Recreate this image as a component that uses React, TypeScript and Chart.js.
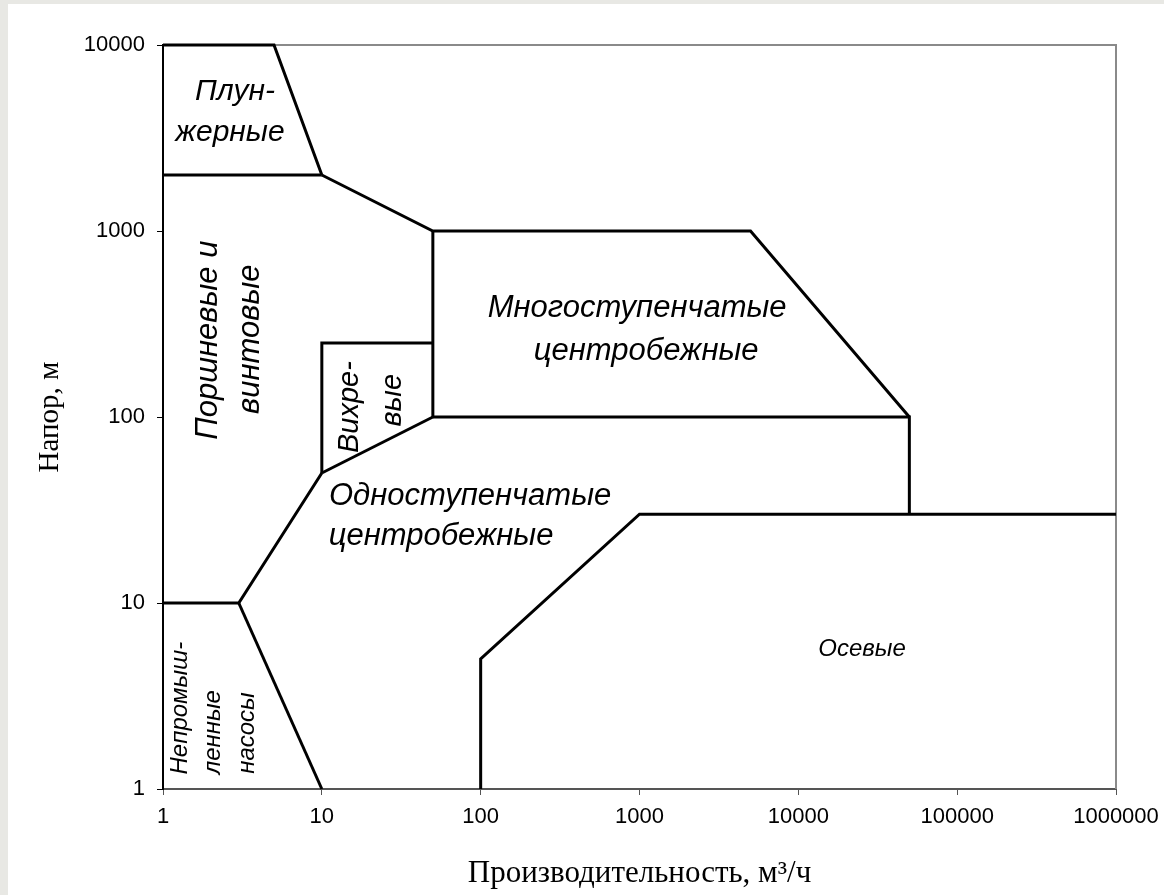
import React, { useEffect, useRef } from "react";
import { Chart, registerables } from "chart.js";

Chart.register(...registerables);

// Axis decades (tick labels)
const xDecades = [1, 10, 100, 1000, 10000, 100000, 1000000];
const yDecades = [1, 10, 100, 1000, 10000];

// Region boundary polylines (x = flow m3/h, y = head m)
const plungerX = [1, 5, 10];
const plungerY = [10000, 10000, 2000];
const plungerBottomX = [1, 10];
const plungerBottomY = [2000, 2000];
const multistageTopX = [10, 50, 5000, 50000];
const multistageTopY = [2000, 1000, 1000, 100];
const multistageLeftX = [50, 50];
const multistageLeftY = [1000, 100];
const vortexTopX = [10, 10, 50];
const vortexTopY = [50, 250, 250];
const vortexBottomX = [10, 50];
const vortexBottomY = [50, 100];
const singleStageTopX = [50, 50000, 50000];
const singleStageTopY = [100, 100, 30];
const reciprocatingBottomX = [10, 3, 1];
const reciprocatingBottomY = [50, 10, 10];
const domesticX = [3, 10];
const domesticY = [10, 1];
const axialX = [100, 100, 1000, 1000000];
const axialY = [1, 5, 30, 30];

const boundaries = [
  [plungerX, plungerY],
  [plungerBottomX, plungerBottomY],
  [multistageTopX, multistageTopY],
  [multistageLeftX, multistageLeftY],
  [vortexTopX, vortexTopY],
  [vortexBottomX, vortexBottomY],
  [singleStageTopX, singleStageTopY],
  [reciprocatingBottomX, reciprocatingBottomY],
  [domesticX, domesticY],
  [axialX, axialY],
];

// Region labels (anchored in data coordinates)
const labelTexts = [
  "Плун-", "жерные",
  "Поршневые и", "винтовые",
  "Вихре-", "вые",
  "Многоступенчатые", "центробежные",
  "Одноступенчатые", "центробежные",
  "Осевые",
  "Непромыш-", "ленные", "насосы",
];
const labelX = [2.84, 2.64, 1.92, 3.53, 15.1, 28.1, 966, 1101, 85.8, 56.3, 25200, 1.28, 2.06, 3.38];
const labelY = [5590, 3365, 259, 262, 113, 123, 385, 226, 37.6, 22.9, 5.66, 2.72, 2.02, 2.0];
const labelVertical = [false, false, true, true, true, true, false, false, false, false, false, true, true, true];

// label font sizes (style)
const labelFontPx = [30, 30, 31, 31, 29, 29, 31, 31, 31, 31, 24, 24, 24, 24];

const xTitle = "Производительность, м³/ч";
const yTitle = "Напор, м";

const SANS = '"Liberation Sans", Arial, sans-serif';
const SERIF = '"Liberation Serif", "Times New Roman", serif';

export default function App() {
  const ref = useRef<HTMLCanvasElement | null>(null);

  useEffect(() => {
    const canvas = ref.current;
    if (!canvas) return;

    const decor = {
      id: "decor",
      beforeDatasetsDraw(chart: any) {
        const { ctx, chartArea } = chart;
        ctx.save();
        ctx.strokeStyle = "#8a8a8a";
        ctx.lineWidth = 2;
        ctx.beginPath();
        ctx.moveTo(chartArea.left, chartArea.top);
        ctx.lineTo(chartArea.right, chartArea.top);
        ctx.lineTo(chartArea.right, chartArea.bottom);
        ctx.stroke();
        ctx.restore();
      },
      afterDatasetsDraw(chart: any) {
        const { ctx } = chart;
        const xs = chart.scales.x;
        const ys = chart.scales.y;
        ctx.save();
        ctx.fillStyle = "#000";
        ctx.textAlign = "center";
        ctx.textBaseline = "middle";
        labelTexts.forEach((t, i) => {
          const px = xs.getPixelForValue(labelX[i]);
          const py = ys.getPixelForValue(labelY[i]);
          ctx.save();
          ctx.font = "italic " + labelFontPx[i] + "px " + SANS;
          ctx.translate(px, py);
          if (labelVertical[i]) ctx.rotate(-Math.PI / 2);
          ctx.fillText(t, 0, 0);
          ctx.restore();
        });
        ctx.restore();
      },
      afterDraw(chart: any) {
        const { ctx, chartArea } = chart;
        ctx.save();
        ctx.fillStyle = "#000";
        ctx.textAlign = "center";
        ctx.textBaseline = "middle";
        ctx.font = "31px " + SERIF;
        ctx.fillText(xTitle, (chartArea.left + chartArea.right) / 2, 870);
        ctx.font = "29px " + SERIF;
        ctx.translate(42, (chartArea.top + chartArea.bottom) / 2);
        ctx.rotate(-Math.PI / 2);
        ctx.fillText(yTitle, 0, 0);
        ctx.restore();
      },
    };

    const datasets = boundaries.map(([bx, by]) => ({
      data: bx.map((x, i) => ({ x, y: by[i] })),
      showLine: true,
      borderColor: "#000",
      backgroundColor: "#000",
      borderWidth: 3,
      pointRadius: 0,
      tension: 0,
      fill: false,
      clip: false as any,
    }));

    const chart = new Chart(canvas, {
      type: "scatter",
      data: { datasets },
      options: {
        responsive: false,
        animation: false,
        layout: { padding: { top: 41, right: 48, left: 0, bottom: 0 } },
        plugins: { legend: { display: false }, tooltip: { enabled: false } },
        scales: {
          x: {
            type: "logarithmic",
            position: "bottom",
            min: 1,
            max: 1000000,
            afterBuildTicks: (s: any) => {
              s.ticks = xDecades.map((v) => ({ value: v }));
            },
            afterFit: (s: any) => {
              s.height = 106;
              s.paddingLeft = 0;
              s.paddingRight = 0;
            },
            ticks: {
              autoSkip: false,
              maxRotation: 0,
              color: "#000",
              padding: 9,
              font: { family: SANS, size: 22 },
              callback: (v: any) => String(v),
            },
            grid: { drawOnChartArea: false, drawTicks: true, tickLength: 6, color: "#555", lineWidth: 1 },
            border: { display: true, color: "#555", width: 2 },
          },
          y: {
            type: "logarithmic",
            position: "left",
            min: 1,
            max: 10000,
            afterBuildTicks: (s: any) => {
              s.ticks = yDecades.map((v) => ({ value: v }));
            },
            afterFit: (s: any) => {
              s.width = 155;
              s.paddingTop = 0;
              s.paddingBottom = 0;
            },
            ticks: {
              autoSkip: false,
              color: "#000",
              padding: 12,
              font: { family: SANS, size: 22 },
              callback: (v: any) => String(v),
            },
            grid: { drawOnChartArea: false, drawTicks: true, tickLength: 6, color: "#000", lineWidth: 1 },
            border: { display: true, color: "#000", width: 2 },
          },
        },
      },
      plugins: [decor],
    });

    return () => chart.destroy();
  }, []);

  return (
    <div
      style={{
        position: "fixed",
        left: 0,
        top: 0,
        width: 1164,
        height: 895,
        background: "#e8e8e4",
        overflow: "hidden",
      }}
    >
      <canvas
        ref={ref}
        width={1156}
        height={891}
        style={{ position: "absolute", left: 8, top: 4, width: 1156, height: 891, background: "#fff", display: "block" }}
      />
    </div>
  );
}
